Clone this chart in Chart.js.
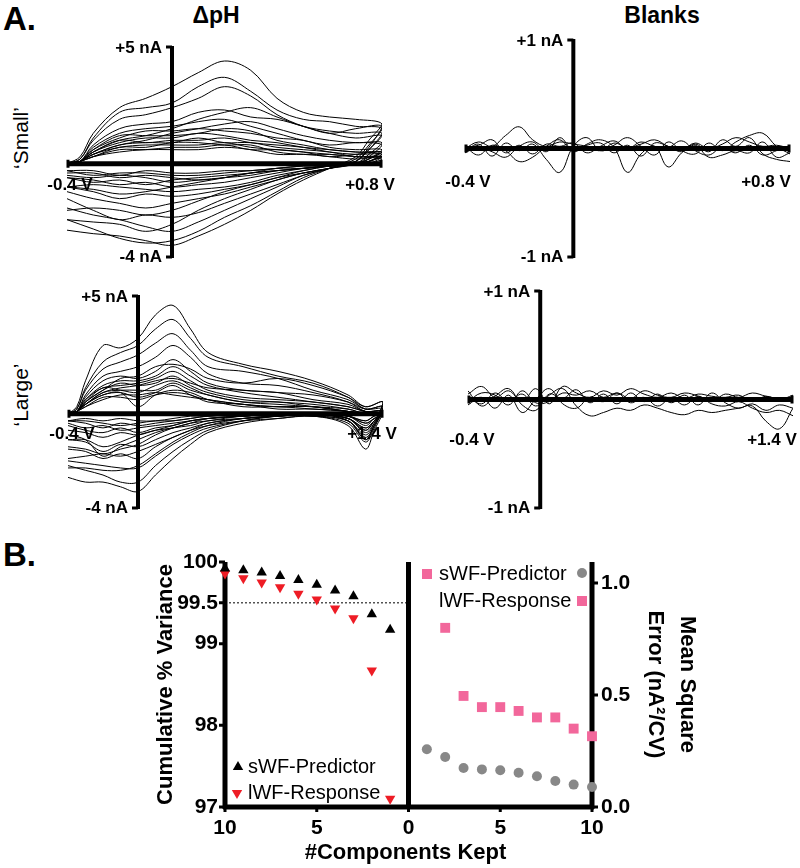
<!DOCTYPE html>
<html lang="en">
<head>
<meta charset="UTF-8">
<title>Voltammograms and PCA</title>
<script src="https://cdn.jsdelivr.net/npm/chart.js"></script>
<style>
  body { margin: 0; background: #fff; }
  #page { position: relative; width: 800px; height: 868px; font-family: "Liberation Sans", Arial, sans-serif; overflow: hidden; }
  canvas { position: absolute; }
  .lbl { position: absolute; line-height: 1; white-space: nowrap; color: #000; }
</style>
</head>
<body>
<div id="page">
  <div class="lbl" style="left:3px;top:2px;font-size:33px;font-weight:bold">A.</div>
  <div class="lbl" style="left:216px;top:4px;font-size:23px;font-weight:bold;transform:translateX(-50%)">ΔpH</div>
  <div class="lbl" style="left:662px;top:4px;font-size:23px;font-weight:bold;transform:translateX(-50%)">Blanks</div>
  <div class="lbl" style="left:20px;top:138px;font-size:21px;transform:translate(-50%,-50%) rotate(-90deg)">‘Small’</div>
  <div class="lbl" style="left:20px;top:395px;font-size:21px;transform:translate(-50%,-50%) rotate(-90deg)">‘Large’</div>
  <div class="lbl" style="left:3px;top:538px;font-size:33px;font-weight:bold">B.</div>

  <canvas id="phSmall" width="400" height="240" style="left:0;top:30px"></canvas>
  <canvas id="blankSmall" width="400" height="240" style="left:400px;top:30px"></canvas>
  <canvas id="phLarge" width="400" height="240" style="left:0;top:280px"></canvas>
  <canvas id="blankLarge" width="400" height="240" style="left:400px;top:280px"></canvas>
  <canvas id="pcaChart" width="800" height="328" style="left:0;top:540px"></canvas>
</div>
<script>
// ---- Panel A: 'Small' waveform (-0.4 V to +0.8 V) ----
const smallFwdV = [-0.4, -0.35, -0.3, -0.2, -0.1, 0, 0.1, 0.2, 0.3, 0.4, 0.5, 0.6, 0.7, 0.8];
const smallRevV = [0.75, 0.7, 0.6, 0.5, 0.4, 0.3, 0.2, 0.1, 0, -0.1, -0.2, -0.3, -0.4];

const phSmallFwd = [
  [0, 0.3, 1.3, 2.4, 2.8, 3.3, 3.9, 4.4, 4.0, 2.8, 2.2, 2.0, 1.9, 1.7],
  [0, 0.2, 1.1, 2.2, 2.4, 2.6, 3.3, 3.7, 3.1, 2.3, 1.9, 1.8, 1.6, 1.5],
  [0, 0.2, 1.0, 1.9, 2.1, 2.4, 2.8, 3.3, 2.9, 2.1, 1.6, 1.3, 1.1, 1.2],
  [0, 0.1, 0.8, 1.5, 1.7, 1.8, 2.2, 2.3, 2.0, 1.9, 1.6, 1.3, 1.5, 1.6],
  [0, 0.1, 0.7, 1.3, 1.5, 1.6, 1.8, 1.9, 1.6, 1.3, 1.0, 0.8, 0.9, 0.8],
  [0, 0.1, 0.6, 1.1, 1.4, 1.4, 1.5, 1.4, 1.3, 1.1, 1.0, 0.7, 0.6, 0.6],
  [0, 0.1, 0.6, 1.2, 1.2, 1.2, 1.3, 1.5, 1.4, 1.0, 0.8, 0.6, 0.5, 0.5],
  [0, 0.1, 0.5, 0.9, 1.1, 1.1, 1.3, 1.2, 1.0, 0.9, 0.7, 0.6, 0.5, 0.4],
  [0, 0.1, 0.5, 1.0, 0.9, 1.0, 1.0, 1.1, 0.9, 0.8, 0.7, 0.5, 0.4, 0.4],
  [0, 0.1, 0.4, 0.8, 0.9, 0.9, 1.1, 0.9, 0.9, 0.7, 0.6, 0.5, 0.3, 0.3],
  [0, 0.1, 0.4, 0.7, 0.8, 0.8, 0.8, 0.9, 0.7, 0.6, 0.5, 0.4, 0.3, 0.3],
  [0, 0.1, 0.3, 0.7, 0.7, 0.9, 0.9, 0.8, 0.8, 0.5, 0.4, 0.4, 0.3, 0.2],
  [0, 0.1, 0.3, 0.6, 0.6, 0.7, 0.7, 0.8, 0.6, 0.6, 0.5, 0.3, 0.4, 0.5],
  [0, 0.1, 0.3, 0.5, 0.6, 0.6, 0.6, 0.7, 0.6, 0.4, 0.4, 0.3, 0.2, 0.3],
  [0, 0.1, 0.4, 0.8, 1.0, 1.3, 1.5, 1.7, 1.8, 1.5, 1.2, 1.0, 0.9, 0.9],
  [0, 0.1, 0.5, 1.0, 1.2, 1.5, 1.9, 2.2, 2.4, 2.0, 1.6, 1.4, 1.3, 1.3]
];
const phSmallRev = [
  [1.0, 0.3, -0.2, -0.7, -1.3, -2.0, -2.6, -3.1, -3.5, -3.3, -3.1, -3.0, -2.85],
  [0.8, 0.2, -0.2, -0.6, -1.2, -1.8, -2.3, -2.9, -3.3, -3.4, -3.2, -2.8, -2.4],
  [0.6, 0.1, -0.2, -0.5, -1.0, -1.5, -2.0, -2.5, -2.9, -2.7, -2.4, -2.2, -1.9],
  [0.7, 0.1, -0.2, -0.5, -0.9, -1.3, -1.7, -2.1, -2.3, -2.2, -2.4, -2.0, -1.5],
  [0.3, 0, -0.2, -0.4, -0.7, -1.0, -1.3, -1.5, -1.7, -1.9, -1.7, -1.5, -1.2],
  [0.2, 0, -0.1, -0.3, -0.6, -0.9, -1.1, -1.3, -1.4, -1.3, -1.5, -1.2, -1.0],
  [0.2, 0, -0.1, -0.3, -0.5, -0.8, -1.0, -1.1, -1.2, -1.1, -1.0, -0.9, -1.0],
  [0.1, 0, -0.1, -0.2, -0.4, -0.6, -0.8, -0.9, -1.0, -0.8, -0.9, -0.7, -0.6],
  [0.1, 0, -0.1, -0.2, -0.3, -0.5, -0.6, -0.7, -0.8, -0.6, -0.5, -0.6, -0.5],
  [0.1, 0, -0.1, -0.2, -0.3, -0.4, -0.6, -0.7, -0.6, -0.5, -0.6, -0.4, -0.4],
  [0, 0, -0.1, -0.1, -0.2, -0.3, -0.4, -0.5, -0.5, -0.4, -0.4, -0.5, -0.3],
  [0, 0, -0.1, -0.1, -0.2, -0.3, -0.3, -0.4, -0.4, -0.3, -0.5, -0.3, -0.3],
  [0.2, 0, -0.1, -0.2, -0.2, -0.4, -0.5, -0.6, -0.7, -0.9, -0.7, -0.8, -0.6],
  [0.1, 0, -0.1, -0.2, -0.3, -0.4, -0.6, -0.8, -1.0, -1.2, -1.3, -1.1, -1.0],
  [0.4, 0, -0.2, -0.4, -0.6, -0.9, -1.2, -1.6, -2.0, -2.2, -2.0, -1.9, -2.0],
  [0.6, 0.1, -0.2, -0.4, -0.7, -1.1, -1.5, -2.0, -2.6, -2.9, -2.6, -2.5, -2.4]
];

// ---- Panel A: 'Large' waveform (-0.4 V to +1.4 V) ----
const largeFwdV = [-0.4, -0.35, -0.3, -0.2, -0.1, 0, 0.1, 0.2, 0.3, 0.4, 0.6, 0.8, 1.0, 1.2, 1.3, 1.4];
const largeRevV = [1.35, 1.3, 1.2, 1.0, 0.8, 0.6, 0.4, 0.3, 0.2, 0.1, 0, -0.1, -0.2, -0.3, -0.4];

const phLargeFwd = [
  [0, 0.3, 1.4, 2.9, 2.8, 3.2, 4.2, 4.6, 3.6, 2.6, 2.1, 1.8, 1.4, 0.8, 0.3, 0.5],
  [0, 0.2, 1.1, 2.2, 2.6, 2.9, 3.6, 4.0, 3.2, 2.4, 2.0, 1.6, 1.3, 0.7, 0.2, 0.3],
  [0, 0.2, 1.0, 1.9, 2.2, 2.5, 3.0, 3.4, 2.7, 2.0, 1.8, 1.5, 1.0, 0.6, 0.2, 0.2],
  [0, 0.1, 0.8, 1.6, 1.8, 2.0, 2.4, 2.9, 2.4, 1.7, 1.3, 1.2, 0.9, 0.5, 0.1, 0.1],
  [0, 0.1, 0.7, 1.4, 1.6, 1.5, 1.8, 2.3, 1.8, 1.3, 1.0, 0.9, 0.6, 0.4, 0.1, 0.1],
  [0, 0.1, 0.6, 1.2, 1.4, 1.4, 1.6, 2.0, 1.6, 1.2, 0.9, 0.7, 0.5, 0.3, 0.1, 0.1],
  [0, 0.1, 0.6, 1.1, 1.2, 1.3, 1.5, 1.8, 1.4, 1.0, 0.7, 0.6, 0.5, 0.3, 0.1, 0],
  [0, 0.1, 0.5, 1.0, 1.3, 1.2, 1.3, 1.6, 1.2, 0.9, 0.6, 0.5, 0.4, 0.2, 0, 0],
  [0, 0.1, 0.5, 1.1, 1.0, 0.9, 1.2, 1.4, 1.1, 0.8, 0.5, 0.4, 0.3, 0.2, 0, 0],
  [0, 0.1, 0.4, 0.9, 1.0, 1.0, 1.0, 1.3, 1.0, 0.8, 0.5, 0.5, 0.3, 0.1, 0, 0],
  [0, 0.1, 0.4, 0.8, 0.9, 0.7, 0.9, 1.2, 0.8, 0.6, 0.4, 0.3, 0.3, 0.1, 0, 0],
  [0, 0.1, 0.4, 0.8, 0.9, 0.3, 0.8, 1.0, 0.9, 0.6, 0.3, 0.3, 0.2, 0.1, 0, 0],
  [0, 0.1, 0.3, 0.7, 0.7, 0.6, 0.8, 0.9, 0.8, 0.5, 0.4, 0.2, 0.2, 0.1, 0, 0],
  [0, 0.1, 0.3, 0.6, 0.8, 0.8, 0.9, 0.8, 0.7, 0.6, 0.4, 0.3, 0.3, 0.1, 0, 0],
  [0, 0.1, 0.5, 1.0, 1.5, 1.6, 2.0, 2.1, 1.9, 1.5, 1.3, 1.5, 1.2, 0.7, 0.3, 0.5],
  [0, 0.1, 0.4, 0.9, 1.1, 1.2, 1.4, 1.5, 1.3, 1.1, 1.0, 0.9, 0.8, 0.5, 0.2, 0.3]
];
const phLargeRev = [
  [-0.4, -0.9, -0.3, -0.1, -0.2, -0.4, -0.8, -1.3, -1.9, -2.6, -3.3, -3.1, -2.9, -2.9, -2.7],
  [-0.6, -1.2, -0.4, -0.1, -0.1, -0.3, -0.7, -1.1, -1.6, -2.2, -2.9, -2.9, -2.6, -2.4, -2.2],
  [-0.5, -1.0, -0.3, 0, -0.1, -0.3, -0.6, -0.9, -1.3, -1.8, -2.3, -2.3, -2.2, -2.1, -2.0],
  [-0.7, -1.5, -0.5, -0.1, -0.2, -0.3, -0.5, -0.7, -1.0, -1.4, -1.9, -1.7, -1.9, -1.6, -1.5],
  [-0.5, -1.1, -0.3, 0, -0.1, -0.2, -0.4, -0.6, -0.8, -1.1, -1.4, -1.3, -1.6, -1.2, -1.1],
  [-0.4, -0.8, -0.2, 0, -0.1, -0.2, -0.3, -0.5, -0.6, -0.8, -1.1, -1.4, -1.8, -1.1, -0.9],
  [-0.3, -0.7, -0.2, 0, -0.1, -0.1, -0.3, -0.4, -0.6, -0.7, -0.9, -0.8, -1.0, -0.8, -0.7],
  [-0.3, -0.6, -0.2, 0, 0, -0.1, -0.2, -0.3, -0.5, -0.6, -0.8, -0.6, -0.8, -0.7, -0.5],
  [-0.2, -0.5, -0.1, 0, 0, -0.1, -0.2, -0.3, -0.4, -0.5, -0.6, -0.7, -0.5, -0.6, -0.4],
  [-0.2, -0.4, -0.1, 0, 0, -0.1, -0.1, -0.2, -0.3, -0.4, -0.5, -0.4, -0.6, -0.4, -0.3],
  [-0.1, -0.3, -0.1, 0, 0, 0, -0.1, -0.2, -0.3, -0.3, -0.4, -0.5, -0.4, -0.3, -0.3],
  [-0.2, -0.4, -0.1, 0, 0, -0.1, -0.2, -0.3, -0.5, -0.7, -0.9, -1.2, -1.4, -1.1, -1.1],
  [-0.1, -0.3, -0.1, 0, 0, 0, -0.1, -0.1, -0.2, -0.3, -0.3, -0.2, -0.3, -0.2, -0.3],
  [-0.3, -0.6, -0.2, 0, 0, -0.1, -0.2, -0.4, -0.6, -0.9, -1.3, -1.5, -1.7, -1.5, -1.4],
  [-0.5, -1.1, -0.3, -0.1, -0.1, -0.2, -0.5, -0.8, -1.2, -1.7, -2.2, -2.4, -2.4, -2.3, -2.3],
  [-0.3, -0.7, -0.2, 0, -0.1, -0.2, -0.4, -0.7, -1.0, -1.3, -1.6, -1.8, -1.7, -1.8, -1.9]
];

// ---- Blanks (noise traces, nA) ----
const blankSmallV = [-0.4, -0.35, -0.3, -0.25, -0.2, -0.15, -0.1, -0.05, 0, 0.05, 0.1, 0.15, 0.2,
  0.25, 0.3, 0.35, 0.4, 0.45, 0.5, 0.55, 0.6, 0.65, 0.7, 0.75, 0.8];
const blankSmall = [
  [0, 0.06, 0.02, 0.12, 0.2, 0.08, 0.02, 0.06, 0.04, 0.02, -0.02, 0.05, 0.01, 0.04, 0.08, 0.02, -0.01, 0.05, 0, 0.04, 0.1, 0.06, 0.02, 0.03, 0],
  [0.02, -0.06, 0.03, -0.02, -0.12, -0.08, 0.02, 0.08, -0.03, 0.04, 0.08, 0.01, -0.22, -0.05, 0.02, -0.17, -0.04, 0.04, -0.03, 0.08, 0.02, 0.1, -0.05, -0.1, -0.12],
  [-0.03, 0.04, -0.07, 0.05, -0.02, 0.04, -0.1, -0.22, 0.02, 0.1, -0.02, 0.03, 0.1, 0.02, -0.06, 0.06, -0.02, -0.05, 0.05, -0.02, 0.06, 0.12, 0.14, 0.02, -0.05],
  [0.01, 0.03, 0.08, -0.04, 0.03, -0.05, 0.04, 0.02, 0.05, -0.04, 0.02, 0.07, 0, 0.06, 0.02, 0.01, 0.07, -0.02, -0.06, 0.01, -0.04, 0.03, -0.06, -0.02, 0.02],
  [-0.04, 0.01, -0.03, -0.08, 0.02, 0.06, -0.03, 0.1, -0.02, 0.03, 0.05, -0.04, 0.03, -0.07, 0.05, 0.02, -0.03, 0.03, -0.08, -0.06, -0.02, -0.04, 0.06, -0.08, -0.04]
];
const blankLargeV = [-0.4, -0.325, -0.25, -0.175, -0.1, -0.025, 0.05, 0.125, 0.2, 0.275, 0.35, 0.425, 0.5,
  0.575, 0.65, 0.725, 0.8, 0.875, 0.95, 1.025, 1.1, 1.175, 1.25, 1.325, 1.4];
const blankLarge = [
  [0.05, 0.12, 0.02, 0.08, -0.02, 0.1, -0.04, 0.12, 0.06, 0.02, 0.08, 0.04, 0.1, 0.05, 0.02, 0.06, 0.01, 0.05, 0.03, 0.02, 0.04, -0.02, 0.03, 0, 0.04],
  [-0.05, 0.02, -0.08, 0.04, -0.12, 0, 0.1, -0.04, -0.08, 0.02, -0.02, 0.06, -0.03, 0.02, -0.06, 0.01, -0.05, 0.03, -0.04, -0.06, -0.02, -0.08, -0.12, -0.1, -0.15],
  [0.03, -0.04, 0.06, -0.02, 0.05, -0.06, 0.04, 0.1, -0.06, -0.15, -0.12, -0.08, -0.1, -0.05, -0.08, -0.12, -0.14, -0.1, -0.12, -0.1, -0.08, -0.06, -0.2, -0.27, -0.08],
  [-0.02, 0.06, 0.04, -0.05, 0.08, -0.03, -0.02, 0.06, 0.04, 0.08, 0.02, 0.06, 0.01, 0.08, 0.04, 0.02, 0.06, 0.03, -0.02, 0.05, 0.02, 0.06, 0.03, 0.01, 0.02],
  [0.08, -0.06, 0.03, 0.1, -0.05, -0.1, 0.05, 0.01, 0.09, -0.03, 0.05, -0.04, 0.06, -0.02, 0.05, -0.03, 0.04, -0.05, 0.06, -0.03, -0.08, -0.04, -0.1, -0.05, -0.08]
];

// ---- Panel B: PCA ----
const components = [1, 2, 3, 4, 5, 6, 7, 8, 9, 10];
const varPredictor = [99.17, 99.36, 99.58, 99.65, 99.72, 99.78, 99.83, 99.87, 99.90, 99.92];
const varResponse = [97.10, 98.67, 99.31, 99.43, 99.54, 99.61, 99.69, 99.75, 99.80, 99.86];
const msePredictor = [0.258, 0.223, 0.174, 0.168, 0.164, 0.153, 0.137, 0.116, 0.100, 0.089];
const mseResponse = [null, 0.80, 0.496, 0.446, 0.446, 0.429, 0.40, 0.40, 0.35, 0.316];
const varTicks = [97, 98, 99, 99.5, 100];
const mseTicks = [0, 0.5, 1.0];
const compTicks = [-10, -5, 0, 5, 10];

const FONT = '"Liberation Sans", Arial, sans-serif';

// draws the crossing axes and their end labels for the voltammograms
const cvAxes = {
  id: 'cvAxes',
  beforeDatasetsDraw(chart, args, o) {
    const ctx = chart.ctx, x = chart.scales.x, y = chart.scales.y;
    const x0 = x.getPixelForValue(0), y0 = y.getPixelForValue(0);
    ctx.save();
    ctx.fillStyle = '#000';
    ctx.font = 'bold 17px ' + FONT;
    ctx.textBaseline = 'middle';
    ctx.textAlign = 'right';
    ctx.fillText(o.top, x0 - 10, y.getPixelForValue(y.max) + 1);
    ctx.fillText(o.bottom, x0 - 10, y.getPixelForValue(y.min));
    ctx.textAlign = 'center';
    ctx.fillText(o.left, x.getPixelForValue(x.min) + o.leftDx, y0 + o.dy);
    ctx.fillText(o.right, x.getPixelForValue(x.max) + o.rightDx, y0 + o.dy);
    ctx.restore();
  },
  afterDatasetsDraw(chart) {
    const ctx = chart.ctx, x = chart.scales.x, y = chart.scales.y;
    const x0 = x.getPixelForValue(0), y0 = y.getPixelForValue(0);
    const l = x.getPixelForValue(x.min), r = x.getPixelForValue(x.max);
    const t = y.getPixelForValue(y.max), b = y.getPixelForValue(y.min);
    ctx.save();
    ctx.strokeStyle = '#000';
    ctx.lineWidth = 5;
    ctx.beginPath();
    ctx.moveTo(l, y0); ctx.lineTo(r, y0);
    ctx.stroke();
    ctx.lineWidth = 4;
    ctx.beginPath();
    ctx.moveTo(x0, t - 1); ctx.lineTo(x0, b + 1);
    ctx.stroke();
    ctx.lineWidth = 3;
    ctx.beginPath();
    ctx.moveTo(x0, t); ctx.lineTo(x0 - 6, t);
    ctx.moveTo(x0, b); ctx.lineTo(x0 - 6, b);
    ctx.moveTo(l + 1, y0 - 4); ctx.lineTo(l + 1, y0 + 4);
    ctx.moveTo(r - 1, y0 - 4); ctx.lineTo(r - 1, y0 + 4);
    ctx.stroke();
    ctx.restore();
  }
};

function traceSets(fwdV, revV, fwd, rev) {
  return fwd.map((f, i) => ({
    data: fwdV.map((v, j) => ({ x: v, y: f[j] }))
      .concat(revV.map((v, j) => ({ x: v, y: rev[i][j] }))),
    borderColor: '#000', borderWidth: 1, pointRadius: 0, showLine: true, tension: 0.35
  }));
}

function blankSets(v, traces) {
  return traces.map(t => ({
    data: v.map((vv, j) => ({ x: vv, y: t[j] })),
    borderColor: '#000', borderWidth: 1, pointRadius: 0, showLine: true, tension: 0.4
  }));
}

function cvChart(id, datasets, range, pad, labels) {
  return new Chart(document.getElementById(id), {
    type: 'scatter',
    data: { datasets },
    options: {
      responsive: false, animation: false, devicePixelRatio: 1,
      layout: { padding: pad },
      scales: {
        x: { type: 'linear', display: false, min: range[0], max: range[1] },
        y: { type: 'linear', display: false, min: range[2], max: range[3] }
      },
      plugins: { legend: { display: false }, tooltip: { enabled: false }, cvAxes: labels }
    },
    plugins: [cvAxes]
  });
}

cvChart('phSmall', traceSets(smallFwdV, smallRevV, phSmallFwd, phSmallRev),
  [-0.4, 0.8, -4, 5], { left: 67, right: 18, top: 17, bottom: 13 },
  { top: '+5 nA', bottom: '-4 nA', left: '-0.4 V', right: '+0.8 V', leftDx: 3, rightDx: -12, dy: 22 });

cvChart('blankSmall', blankSets(blankSmallV, blankSmall),
  [-0.4, 0.8, -1, 1], { left: 65, right: 10, top: 10, bottom: 13 },
  { top: '+1 nA', bottom: '-1 nA', left: '-0.4 V', right: '+0.8 V', leftDx: 3, rightDx: -24, dy: 34 });

cvChart('phLarge', traceSets(largeFwdV, largeRevV, phLargeFwd, phLargeRev),
  [-0.4, 1.4, -4, 5], { left: 68, right: 17, top: 16, bottom: 12 },
  { top: '+5 nA', bottom: '-4 nA', left: '-0.4 V', right: '+1.4 V', leftDx: 4, rightDx: -11, dy: 21 });

cvChart('blankLarge', blankSets(blankLargeV, blankLarge),
  [-0.4, 1.4, -1, 1], { left: 68, right: 7, top: 11, bottom: 12 },
  { top: '+1 nA', bottom: '-1 nA', left: '-0.4 V', right: '+1.4 V', leftDx: 4, rightDx: -21, dy: 41 });

// ---- Panel B chart ----
function marker(ctx, kind, x, y, color) {
  ctx.fillStyle = color;
  ctx.beginPath();
  if (kind === 'up') { ctx.moveTo(x, y - 6); ctx.lineTo(x + 5.2, y + 3); ctx.lineTo(x - 5.2, y + 3); }
  else if (kind === 'down') { ctx.moveTo(x, y + 6); ctx.lineTo(x + 5.2, y - 3); ctx.lineTo(x - 5.2, y - 3); }
  else if (kind === 'square') { ctx.rect(x - 5, y - 5, 10, 10); }
  else { ctx.arc(x, y, 5, 0, Math.PI * 2); }
  ctx.fill();
}

const pcaAxes = {
  id: 'pcaAxes',
  beforeDatasetsDraw(chart) {
    const ctx = chart.ctx, x = chart.scales.x, y = chart.scales.y, y2 = chart.scales.y2;
    const a = chart.chartArea;
    const x0 = x.getPixelForValue(0);
    ctx.save();
    // dotted 99.5 % line
    ctx.strokeStyle = '#000';
    ctx.lineWidth = 1;
    ctx.setLineDash([2, 2]);
    ctx.beginPath();
    ctx.moveTo(a.left, y.getPixelForValue(99.5));
    ctx.lineTo(x0, y.getPixelForValue(99.5));
    ctx.stroke();
    ctx.setLineDash([]);
    // axes
    ctx.lineWidth = 5;
    ctx.beginPath();
    ctx.moveTo(a.left, a.top); ctx.lineTo(a.left, a.bottom + 2);
    ctx.moveTo(x0, a.top); ctx.lineTo(x0, a.bottom + 2);
    ctx.moveTo(a.right, a.top); ctx.lineTo(a.right, a.bottom + 2);
    ctx.moveTo(a.left - 2, a.bottom); ctx.lineTo(a.right + 2, a.bottom);
    ctx.stroke();
    ctx.lineWidth = 3;
    ctx.beginPath();
    varTicks.forEach(v => { const p = y.getPixelForValue(v); ctx.moveTo(a.left, p); ctx.lineTo(a.left - 6, p); });
    mseTicks.forEach(v => { const p = y2.getPixelForValue(v); ctx.moveTo(a.right, p); ctx.lineTo(a.right + 6, p); });
    compTicks.forEach(v => { const p = x.getPixelForValue(v); ctx.moveTo(p, a.bottom); ctx.lineTo(p, a.bottom + 5); });
    ctx.stroke();
    // tick labels
    ctx.fillStyle = '#000';
    ctx.font = 'bold 21px ' + FONT;
    ctx.textBaseline = 'middle';
    ctx.textAlign = 'right';
    varTicks.forEach(v => ctx.fillText(String(v), a.left - 7, y.getPixelForValue(v)));
    ctx.textAlign = 'left';
    mseTicks.forEach(v => ctx.fillText(v.toFixed(1), a.right + 9, y2.getPixelForValue(v)));
    ctx.textAlign = 'center';
    compTicks.forEach(v => ctx.fillText(String(Math.abs(v)), x.getPixelForValue(v), a.bottom + 21));
    // titles
    ctx.font = 'bold 22px ' + FONT;
    ctx.fillText('#Components Kept', (a.left + a.right) / 2 - 3, a.bottom + 46);
    const cy = (a.top + a.bottom) / 2;
    ctx.save();
    ctx.translate(166, cy);
    ctx.rotate(-Math.PI / 2);
    ctx.fillText('Cumulative % Variance', 0, 0);
    ctx.restore();
    ctx.save();
    ctx.translate(687, cy);
    ctx.rotate(Math.PI / 2);
    ctx.fillText('Mean Square', 0, 0);
    ctx.restore();
    ctx.save();
    ctx.translate(655, cy);
    ctx.rotate(Math.PI / 2);
    ctx.fillText('Error (nA²/CV)', 0, 0);
    ctx.restore();
    // legends
    ctx.font = '20px ' + FONT;
    ctx.textAlign = 'left';
    const ly = y.getPixelForValue(97);
    marker(ctx, 'up', 238, ly - 40, '#000');
    ctx.fillStyle = '#000';
    ctx.fillText('sWF-Predictor', 248, ly - 40);
    marker(ctx, 'down', 237, ly - 14, '#ee1c25');
    ctx.fillStyle = '#000';
    ctx.fillText('lWF-Response', 248, ly - 14);
    marker(ctx, 'square', 427, a.top + 12, '#f2679b');
    ctx.fillStyle = '#000';
    ctx.fillText('sWF-Predictor', 439, a.top + 12);
    marker(ctx, 'circle', 582, a.top + 11, '#888888');
    ctx.fillStyle = '#000';
    ctx.fillText('lWF-Response', 439, a.top + 39);
    marker(ctx, 'square', 582, a.top + 39, '#f2679b');
    ctx.restore();
  }
};

new Chart(document.getElementById('pcaChart'), {
  type: 'scatter',
  data: {
    datasets: [
      { label: 'sWF-Predictor', yAxisID: 'y', data: components.map((c, i) => ({ x: -c, y: varPredictor[i] })),
        pointStyle: 'triangle', pointRadius: 6, backgroundColor: '#000', borderColor: '#000', borderWidth: 0, clip: false },
      { label: 'lWF-Response', yAxisID: 'y', data: components.map((c, i) => ({ x: -c, y: varResponse[i] })),
        pointStyle: 'triangle', rotation: 180, pointRadius: 6, backgroundColor: '#ee1c25', borderColor: '#ee1c25', borderWidth: 0, clip: false },
      { label: 'sWF-Predictor MSE', yAxisID: 'y2', data: components.map((c, i) => ({ x: c, y: msePredictor[i] })),
        pointStyle: 'circle', pointRadius: 5, backgroundColor: '#888888', borderColor: '#888888', borderWidth: 0, clip: false },
      { label: 'lWF-Response MSE', yAxisID: 'y2', data: components.map((c, i) => ({ x: c, y: mseResponse[i] })),
        pointStyle: 'rect', pointRadius: 7, backgroundColor: '#f2679b', borderColor: '#f2679b', borderWidth: 0, clip: false }
    ]
  },
  options: {
    responsive: false, animation: false, devicePixelRatio: 1,
    layout: { padding: { left: 225, right: 208, top: 22, bottom: 61 } },
    scales: {
      x: { type: 'linear', display: false, min: -10, max: 10 },
      y: { type: 'linear', display: false, position: 'left', min: 97, max: 100 },
      y2: { type: 'linear', display: false, position: 'right', min: 0, max: 1.094 }
    },
    plugins: { legend: { display: false }, tooltip: { enabled: false } }
  },
  plugins: [pcaAxes]
});
</script>
</body>
</html>
